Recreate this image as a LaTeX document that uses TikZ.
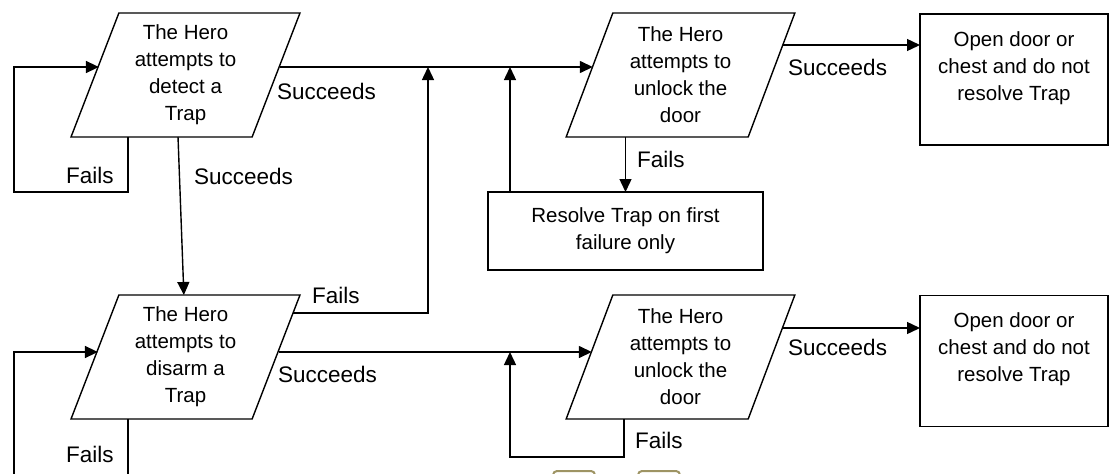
\documentclass[tikz,border=0pt]{standalone}
\usepackage{fontspec}
\setmainfont{Liberation Sans}
\usetikzlibrary{shapes.geometric,arrows.meta}
\definecolor{khaki}{RGB}{158,148,100}
\begin{document}
\begin{tikzpicture}[x=1pt,y=-1pt,
    attempt/.style ={trapezium, trapezium left angle=70, trapezium right angle=110,
      trapezium stretches=true, draw, line width=1.4pt, outer sep=0pt, inner sep=0pt,
      minimum width=229pt, minimum height=124pt, align=center},
    outcome/.style ={rectangle, draw, line width=1.4pt, outer sep=0pt, inner sep=0pt,
      minimum width=188pt, minimum height=131pt, align=center},
    resolvebox/.style ={rectangle, draw, line width=1.4pt, outer sep=0pt, inner sep=0pt,
      minimum width=275pt, minimum height=78pt, align=center},
    flow/.style ={line width=1.4pt, -{Triangle[length=13pt,width=12pt]}},
    lbl/.style ={anchor=base west, inner sep=0pt, font=\fontsize{22.5}{27}\selectfont},
    every node/.style ={font=\fontsize{20.5}{27}\selectfont}]
   \useasboundingbox (0,0) rectangle (1112,474);
   % boxes
   \node[attempt] (detect)  at (185.5,75)  {The Hero\\attempts to\\detect a\\Trap};
   \node[attempt] (disarm)  at (185.5,357) {The Hero\\attempts to\\disarm a\\Trap};
   \node[attempt] (unlockA) at (680.5,75)  {The Hero\\attempts to\\unlock the\\door};
   \node[attempt] (unlockB) at (680.5,357) {The Hero\\attempts to\\unlock the\\door};
   \node[outcome] (openA)   at (1014,79.5) {Open door or\\chest and do not\\resolve Trap\\~};
   \node[outcome] (openB)   at (1014,361)  {Open door or\\chest and do not\\resolve Trap\\~};
   \node[resolvebox] (resolve) at (625.5,231) {Resolve Trap on first\\failure only};
   % bends
   \coordinate (loopA) at (14,192);
   \coordinate (loopB) at (14,500);
   \coordinate (loopC) at (510,457);
   \coordinate (j1) at (428,67);
   \coordinate (j2) at (510,67);
   \coordinate (j3) at (510,352);
   \coordinate (outA) at ([shift={(-12pt,-32pt)}]unlockA.top right corner);
   \coordinate (outB) at ([shift={(-12pt,-33pt)}]unlockB.top right corner);
   % connectors
   \draw[flow] ([shift={(-20pt,-54pt)}]detect.top right corner) -- ([shift={(-20pt,-54pt)}]unlockA.top left corner);
   \draw[flow] ([xshift=57pt]detect.bottom left corner) |- (loopA) |- ([shift={(-20pt,-54pt)}]detect.top left corner);
   \draw[flow] ([xshift=107pt]detect.bottom left corner) -- ([xshift=65pt]disarm.top left corner);
   \draw[flow] ([shift={(-7pt,-18pt)}]disarm.top right corner) -| (j1);
   \draw[flow] ([shift={(-21pt,-57pt)}]disarm.top right corner) -- ([shift={(-21pt,-57pt)}]unlockB.top left corner);
   \draw[flow] ([xshift=57pt]disarm.bottom left corner) |- (loopB) |- ([shift={(-21pt,-57pt)}]disarm.top left corner);
   \draw[flow] (resolve.north |- unlockA.bottom left corner) -- (resolve.north);
   \draw[flow] ([xshift=22pt]resolve.north west) -- (j2);
   \draw[flow] (outA) -- (outA -| openA.west);
   \draw[flow] ([xshift=58pt]unlockB.bottom left corner) |- (loopC) -- (j3);
   \draw[flow] (outB) -- (outB -| openB.west);
   % labels
   \node[lbl] (sA) at (277,99)  {Succeeds};
   \node[lbl] (sB) at (194,184) {Succeeds};
   \node[lbl] (fA) at (66,183)  {Fails};
   \node[lbl] (fB) at (312,303) {Fails};
   \node[lbl] (sC) at (278,382) {Succeeds};
   \node[lbl] (fC) at (66,462)  {Fails};
   \node[lbl] (fD) at (637,167) {Fails};
   \node[lbl] (sD) at (788,75)  {Succeeds};
   \node[lbl] (fE) at (635,448) {Fails};
   \node[lbl] (sE) at (788,355) {Succeeds};
   % tabs cut by the page edge
   \draw[khaki, line width=2pt, rounded corners=4pt] (553,502) -- (553,471) -- (595,471) -- (595,502);
   \draw[khaki, line width=2pt, rounded corners=4pt] (638,502) -- (638,471) -- (680,471) -- (680,502);
 \end{tikzpicture}
\end{document}
